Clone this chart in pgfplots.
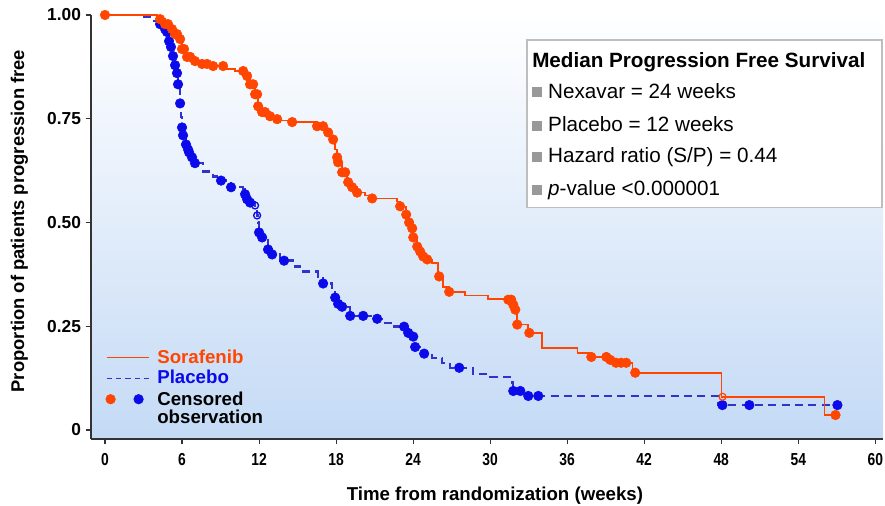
\documentclass[border=0pt]{standalone}
\usepackage{graphicx}
\usepackage{pgfplots}
\pgfplotsset{compat=1.18}
\usepackage{fontspec}
\setmainfont{Liberation Sans}
\definecolor{sor}{RGB}{255,69,0}
\definecolor{pla}{RGB}{10,10,235}
\definecolor{plaline}{RGB}{50,50,205}
\definecolor{bgblue}{RGB}{196,218,245}
\definecolor{bul}{RGB}{153,153,153}
\definecolor{boxline}{RGB}{190,190,190}
\newcommand{\nx}[1]{\scalebox{0.8}[1]{#1}}
\newcommand{\bsq}{\textcolor{bul}{\raisebox{0.5pt}{\rule{7.5pt}{7.5pt}}}\hspace{4.5pt}}
\pgfplotsset{
 sorleg/.style={legend image code/.code={\draw[sor,line width=1.1pt] (0pt,0pt) -- (31.5pt,0pt);}},
 plaleg/.style={legend image code/.code={\draw[plaline,line width=0.9pt,dash pattern=on 4pt off 3pt] (0pt,0pt) -- (31.5pt,0pt);}},
 cenleg/.style={legend image code/.code={\fill[sor] (3pt,0pt) circle (3.6pt); \fill[pla] (24pt,0pt) circle (3.6pt);}},
}
\pgfplotstableread{
t s
0 1.000
4.05 0.990
4.68 0.978
5.07 0.966
5.46 0.954
5.85 0.942
6.00 0.918
6.24 0.906
6.39 0.899
6.78 0.889
7.17 0.882
8.18 0.877
9.35 0.870
10.13 0.865
10.91 0.853
11.30 0.833
11.69 0.809
11.93 0.780
12.24 0.766
12.63 0.756
13.09 0.749
13.64 0.746
14.58 0.742
16.52 0.732
17.15 0.717
17.54 0.700
17.93 0.676
18.08 0.657
18.16 0.645
18.47 0.621
18.86 0.597
19.25 0.585
19.64 0.572
20.27 0.565
20.81 0.558
22.76 0.551
22.99 0.539
23.46 0.519
23.69 0.500
23.93 0.486
24.01 0.464
24.32 0.442
24.55 0.430
24.79 0.418
25.10 0.411
25.49 0.403
25.95 0.370
26.34 0.345
26.81 0.333
28.06 0.324
29.85 0.316
31.41 0.314
31.72 0.302
31.88 0.290
32.11 0.254
32.97 0.234
34.06 0.198
36.79 0.186
37.80 0.176
39.21 0.169
39.75 0.162
41.08 0.138
48.01 0.080
56.04 0.036
56.90 0.036
}\sorline
\pgfplotstableread{
t s
0 1.000
4.29 0.990
4.68 0.978
4.91 0.978
5.22 0.966
5.46 0.954
5.61 0.954
5.85 0.942
6.00 0.918
6.16 0.918
6.39 0.899
6.63 0.899
7.01 0.889
7.56 0.882
7.95 0.882
8.42 0.877
9.20 0.877
10.76 0.865
11.07 0.853
11.30 0.833
11.54 0.833
11.69 0.809
11.85 0.809
11.93 0.780
12.24 0.766
12.47 0.766
12.86 0.756
13.41 0.749
14.58 0.742
16.52 0.732
16.99 0.732
17.38 0.717
17.77 0.700
18.08 0.657
18.16 0.645
18.47 0.621
18.71 0.621
18.94 0.597
19.25 0.585
19.64 0.572
20.81 0.558
22.99 0.539
23.46 0.519
23.69 0.500
23.93 0.486
24.01 0.464
24.32 0.442
24.55 0.430
24.79 0.418
25.10 0.411
26.03 0.370
26.81 0.333
31.41 0.314
31.64 0.314
31.80 0.302
31.96 0.290
32.11 0.254
33.05 0.234
37.88 0.176
39.05 0.176
39.36 0.169
39.80 0.162
40.20 0.162
40.60 0.162
41.30 0.138
56.90 0.036
}\sorcens
\pgfplotstableread{
t s
0 1.000
2.73 0.995
3.51 0.986
4.29 0.978
4.68 0.966
4.83 0.959
4.99 0.937
5.14 0.923
5.30 0.901
5.46 0.879
5.61 0.860
5.69 0.833
5.85 0.787
5.92 0.754
6.00 0.729
6.08 0.710
6.31 0.688
6.47 0.676
6.55 0.669
6.78 0.657
7.01 0.643
7.64 0.623
8.42 0.611
9.04 0.601
9.82 0.585
10.76 0.580
10.91 0.568
11.07 0.556
11.30 0.548
11.69 0.541
11.85 0.517
11.93 0.500
12.00 0.476
12.24 0.464
12.70 0.435
13.02 0.423
13.64 0.408
14.65 0.394
15.20 0.382
16.60 0.370
16.99 0.353
17.69 0.338
17.93 0.319
18.16 0.304
18.47 0.297
19.10 0.275
21.20 0.268
21.67 0.258
22.45 0.249
23.54 0.234
24.01 0.225
24.16 0.200
24.79 0.184
25.49 0.174
26.27 0.162
26.89 0.150
28.68 0.135
30.01 0.128
31.72 0.114
31.80 0.094
32.97 0.082
47.78 0.060
57.05 0.060
}\plaline
\pgfplotstableread{
t s
4.29 0.978
4.68 0.966
4.83 0.959
4.99 0.937
5.14 0.923
5.30 0.901
5.46 0.879
5.61 0.860
5.69 0.833
5.85 0.787
6.00 0.729
6.08 0.710
6.31 0.688
6.47 0.676
6.55 0.669
6.78 0.657
7.01 0.643
9.04 0.601
9.82 0.585
10.91 0.568
11.07 0.556
11.30 0.548
12.00 0.476
12.24 0.464
12.70 0.435
13.02 0.423
13.95 0.408
16.99 0.353
17.93 0.319
18.16 0.304
18.47 0.297
19.10 0.275
20.11 0.275
21.20 0.268
23.30 0.249
23.62 0.234
24.01 0.225
24.16 0.200
24.86 0.184
27.59 0.150
31.80 0.094
32.35 0.094
32.97 0.082
33.75 0.082
48.09 0.060
50.19 0.060
57.05 0.060
}\placens
\begin{document}
\begin{tikzpicture}
\path[use as bounding box] (-68.25pt,-50.25pt) rectangle (595.5pt,329.25pt);
\begin{axis}[
 at={(0,0)}, anchor=south west,
 width=594pt, height=318pt, scale only axis,
 xmin=-1.09, xmax=60.6, ymin=-0.0217, ymax=1.0,
 clip=false,
 axis x line*=bottom, axis y line*=left,
 axis line style={-, draw=black!80, line width=0.8pt},
 axis background/.style={top color=white, middle color=bgblue!40, bottom color=bgblue},
 tick align=outside, major tick length=4pt,
 tick style={black!80, line width=0.8pt},
 xtick={0,6,...,60},
 xticklabels={\nx{0},\nx{6},\nx{12},\nx{18},\nx{24},\nx{30},\nx{36},\nx{42},\nx{48},\nx{54},\nx{60}},
 ytick={0,0.25,0.5,0.75,1},
 yticklabels={0,0.25,0.50,0.75,1.00},
 xticklabel style={font=\fontsize{13}{13}\selectfont\bfseries, yshift=-3.5pt},
 yticklabel style={font=\fontsize{13}{13}\selectfont\bfseries},
 xlabel={Time from randomization (weeks)},
 ylabel={Proportion of patients progression free},
 xlabel style={font=\fontsize{14}{14}\selectfont\bfseries, at={(axis description cs:0.51,0)}, anchor=base, yshift=-45.75pt},
 ylabel style={font=\fontsize{13.8}{14}\selectfont\bfseries, at={(axis description cs:-0.0903,0.514)}, anchor=center},
 legend style={at={(rel axis cs:0.018,0.218)}, anchor=north west, draw=none, fill=none,
   font=\fontsize{14}{15}\selectfont\bfseries, row sep=0pt, column sep=4pt, inner sep=0pt},
 legend cell align=left,
]
\addlegendimage{sorleg}
\addlegendentry{\textcolor{sor}{Sorafenib}}
\addlegendimage{plaleg}
\addlegendentry{\textcolor{pla}{Placebo}}
\addlegendimage{cenleg}
\addlegendentry{\begin{tabular}[t]{@{}l@{}}Censored\\[-1pt]observation\end{tabular}}

\addplot[const plot, plaline, line width=1.8pt, dash pattern=on 6pt off 4pt, forget plot] table[x=t,y=s] {\plaline};
\addplot[only marks, mark=*, mark size=3.6pt, mark options={draw=pla, fill=pla}, forget plot] table[x=t,y=s] {\placens};
\addplot[only marks, mark=o, mark size=2.6pt, mark options={draw=pla, line width=1pt}, forget plot] coordinates {(11.69,0.541) (11.85,0.517)};
\addplot[const plot, sor, line width=1.2pt, forget plot] table[x=t,y=s] {\sorline};
\addplot[only marks, mark=*, mark size=3.6pt, mark options={draw=sor, fill=sor}, forget plot] table[x=t,y=s] {\sorcens};
\addplot[only marks, mark=o, mark size=2.6pt, mark options={draw=sor, line width=0.9pt}, forget plot] coordinates {(48.10,0.080)};

\draw[fill=white, draw=boxline, line width=0.8pt] (rel axis cs:0.5505,0.941) rectangle (rel axis cs:0.9987,0.545);
\node[anchor=base west, inner sep=0pt, font=\fontsize{15.5}{16}\selectfont\bfseries] at (rel axis cs:0.5568,0.877) {Median Progression Free Survival};
\node[anchor=base west, inner sep=0pt, font=\fontsize{15.5}{16}\selectfont] at (rel axis cs:0.5568,0.804) {\bsq Nexavar = 24 weeks};
\node[anchor=base west, inner sep=0pt, font=\fontsize{15.5}{16}\selectfont] at (rel axis cs:0.5568,0.726) {\bsq Placebo = 12 weeks};
\node[anchor=base west, inner sep=0pt, font=\fontsize{15.5}{16}\selectfont] at (rel axis cs:0.5568,0.651) {\bsq Hazard ratio (S/P) = 0.44};
\node[anchor=base west, inner sep=0pt, font=\fontsize{15.5}{16}\selectfont] at (rel axis cs:0.5568,0.575) {\bsq \textit{p}-value <0.000001};
\end{axis}
\end{tikzpicture}
\end{document}
